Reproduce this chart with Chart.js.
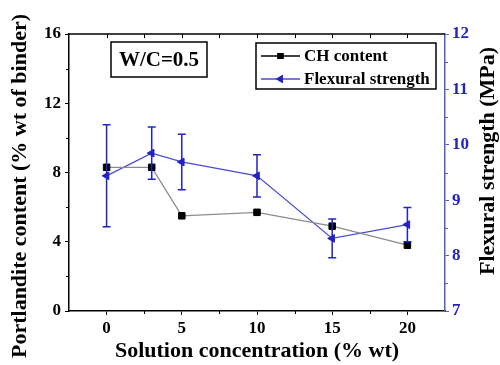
<!DOCTYPE html>
<html><head><meta charset="utf-8">
<script src="https://cdn.jsdelivr.net/npm/chart.js@4/dist/chart.umd.min.js"></script>
<style>html,body{margin:0;padding:0;background:#fff}#wrap{width:500px;height:365px}</style>
</head><body><div id="wrap"><canvas id="c" width="500" height="365"></canvas></div>
<script>
const concentration = [0, 3, 5, 10, 15, 20];
const chContent = [8.3, 8.3, 5.5, 5.7, 4.9, 3.8];
const flexStrength = [9.44, 9.85, 9.69, 9.44, 8.31, 8.56];
const flexError = [0.92, 0.47, 0.5, 0.38, 0.35, 0.31];
const xTicks = [0, 5, 10, 15, 20];
const xMinorTicks = [2.5, 7.5, 12.5, 17.5];
const leftTicks = [0, 4, 8, 12, 16];
const leftMinorTicks = [2, 6, 10, 14];
const rightTicks = [7, 8, 9, 10, 11, 12];
const rightMinorTicks = [7.5, 8.5, 9.5, 10.5, 11.5];
const seriesNames = ['CH content', 'Flexural strength'];
const annotationText = 'W/C=0.5';
const xTitle = 'Solution concentration (% wt)';
const leftTitle = 'Portlandite content (% wt of binder)';
const rightTitle = 'Flexural strength (MPa)';

const FONT = '"Liberation Serif", "Times New Roman", serif';
const BLUE = '#2323c3';
const BLUE_LINE = '#4b4bd2';
const AXIS_BLUE = '#5a5ac8';

const extras = {
  id: 'extras',
  afterDatasetsDraw(chart) {
    const ctx = chart.ctx;
    const xs = chart.scales.x, yr = chart.scales.y1;
    ctx.save();
    ctx.strokeStyle = BLUE;
    ctx.lineWidth = 1.5;
    concentration.forEach((c, i) => {
      const px = xs.getPixelForValue(c);
      const top = yr.getPixelForValue(flexStrength[i] + flexError[i]);
      const bot = yr.getPixelForValue(flexStrength[i] - flexError[i]);
      ctx.beginPath();
      ctx.moveTo(px, top); ctx.lineTo(px, bot);
      ctx.moveTo(px - 4, top); ctx.lineTo(px + 4, top);
      ctx.moveTo(px - 4, bot); ctx.lineTo(px + 4, bot);
      ctx.stroke();
    });
    ctx.restore();
  },
  afterDraw(chart) {
    const ctx = chart.ctx;
    const a = chart.chartArea;
    const xs = chart.scales.x, yl = chart.scales.y, yr = chart.scales.y1;
    ctx.save();
    // top frame line
    ctx.strokeStyle = '#000'; ctx.lineWidth = 1.5;
    ctx.beginPath(); ctx.moveTo(a.left, a.top); ctx.lineTo(a.right, a.top); ctx.stroke();
    // top inward ticks
    ctx.lineWidth = 1;
    [...xTicks, ...xMinorTicks].forEach(v => {
      const px = Math.round(xs.getPixelForValue(v)) + 0.5;
      ctx.beginPath(); ctx.moveTo(px, a.top); ctx.lineTo(px, a.top + 4); ctx.stroke();
    });
    // bottom minor ticks
    xMinorTicks.forEach(v => {
      const px = Math.round(xs.getPixelForValue(v)) + 0.5;
      ctx.beginPath(); ctx.moveTo(px, a.bottom); ctx.lineTo(px, a.bottom + 3); ctx.stroke();
    });
    // left minor ticks
    leftMinorTicks.forEach(v => {
      const py = Math.round(yl.getPixelForValue(v)) + 0.5;
      ctx.beginPath(); ctx.moveTo(a.left, py); ctx.lineTo(a.left - 3, py); ctx.stroke();
    });
    // right minor ticks
    ctx.strokeStyle = AXIS_BLUE;
    rightMinorTicks.forEach(v => {
      const py = Math.round(yr.getPixelForValue(v)) + 0.5;
      ctx.beginPath(); ctx.moveTo(a.right, py); ctx.lineTo(a.right + 3, py); ctx.stroke();
    });
    // W/C box
    ctx.strokeStyle = '#000'; ctx.lineWidth = 1.5;
    ctx.strokeRect(111, 42, 96, 35);
    ctx.fillStyle = '#000';
    ctx.font = 'bold 21px ' + FONT;
    ctx.textAlign = 'center'; ctx.textBaseline = 'middle';
    ctx.fillText(annotationText, 159, 60.5);
    // legend
    ctx.strokeRect(256, 43, 180, 46);
    const ds = chart.data.datasets;
    const rows = [56, 79];
    ds.forEach((d, i) => {
      const y = rows[i];
      ctx.strokeStyle = i === 0 ? '#000' : BLUE_LINE;
      ctx.lineWidth = 1.3;
      ctx.beginPath(); ctx.moveTo(261, y); ctx.lineTo(300, y); ctx.stroke();
      Chart.helpers.drawPoint(ctx, {
        pointStyle: d.pointStyle, radius: 3.5, rotation: d.pointRotation || 0,
        borderWidth: 1
      }, 280.5, y);
      ctx.fillStyle = d.pointBackgroundColor;
      ctx.strokeStyle = d.pointBorderColor;
      ctx.fill(); ctx.stroke();
      ctx.fillStyle = '#000';
      ctx.font = 'bold 17px ' + FONT;
      ctx.textAlign = 'left'; ctx.textBaseline = 'middle';
      ctx.fillText(d.label, 304, y + 1);
    });
    // axis titles (left and right)
    ctx.fillStyle = '#000';
    ctx.font = 'bold 22px ' + FONT;
    ctx.textAlign = 'center'; ctx.textBaseline = 'middle';
    ctx.save(); ctx.translate(20, 186); ctx.rotate(-Math.PI / 2); ctx.fillText(leftTitle, 0, 0); ctx.restore();
    ctx.save(); ctx.translate(488, 161); ctx.rotate(-Math.PI / 2); ctx.fillText(rightTitle, 0, 0); ctx.restore();
    ctx.restore();
  }
};

const tickFont = { family: FONT, size: 17, weight: 'bold' };

new Chart(document.getElementById('c'), {
  type: 'line',
  data: {
    datasets: [
      {
        label: seriesNames[0],
        data: concentration.map((c, i) => ({ x: c, y: chContent[i] })),
        yAxisID: 'y',
        borderColor: '#8c8c8c', borderWidth: 1.3,
        pointStyle: 'rect', pointRadius: 4.6,
        pointBackgroundColor: '#000', pointBorderColor: '#000', pointBorderWidth: 1,
        tension: 0
      },
      {
        label: seriesNames[1],
        data: concentration.map((c, i) => ({ x: c, y: flexStrength[i] })),
        yAxisID: 'y1',
        borderColor: BLUE_LINE, borderWidth: 1.3,
        pointStyle: 'triangle', pointRotation: -90, pointRadius: 4.5,
        pointBackgroundColor: BLUE, pointBorderColor: BLUE, pointBorderWidth: 1,
        tension: 0
      }
    ]
  },
  options: {
    responsive: false, animation: false, devicePixelRatio: 1,
    layout: { padding: { top: 34, left: 0, right: 0, bottom: 0 } },
    plugins: { legend: { display: false }, tooltip: { enabled: false } },
    scales: {
      x: {
        type: 'linear', position: 'bottom', min: -2.5, max: 22.5,
        afterBuildTicks: s => { s.ticks = xTicks.map(v => ({ value: v })); },
        afterFit: s => { s.height = 54; },
        grid: { drawOnChartArea: false, drawTicks: true, tickLength: 4, color: '#000', lineWidth: 1 },
        border: { display: true, color: '#000', width: 1.5 },
        ticks: { font: tickFont, color: '#000', padding: 3, maxRotation: 0 },
        title: { display: true, text: xTitle, color: '#000', font: { family: FONT, size: 22, weight: 'bold' }, padding: { top: 3, bottom: 0 } }
      },
      y: {
        type: 'linear', position: 'left', min: 0, max: 16,
        afterBuildTicks: s => { s.ticks = leftTicks.map(v => ({ value: v })); },
        afterFit: s => { s.width = 69; },
        grid: { drawOnChartArea: false, drawTicks: true, tickLength: 4, color: '#000', lineWidth: 1 },
        border: { display: true, color: '#000', width: 1.5 },
        ticks: { font: tickFont, color: '#000', padding: 4 }
      },
      y1: {
        type: 'linear', position: 'right', min: 7, max: 12,
        afterBuildTicks: s => { s.ticks = rightTicks.map(v => ({ value: v })); },
        afterFit: s => { s.width = 55; },
        grid: { drawOnChartArea: false, drawTicks: true, tickLength: 4, color: AXIS_BLUE, lineWidth: 1 },
        border: { display: true, color: AXIS_BLUE, width: 1.5 },
        ticks: { font: tickFont, color: BLUE, padding: 3 }
      }
    }
  },
  plugins: [extras]
});
</script>
</body></html>
